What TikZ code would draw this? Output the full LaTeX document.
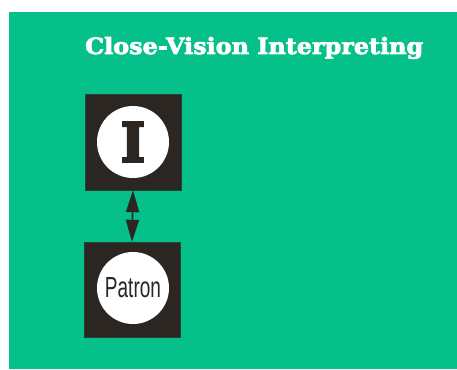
\documentclass[tikz,border=0pt]{standalone}
\usepackage{fontspec}
\setmainfont{Liberation Sans}
\newfontfamily\slabfont{DejaVu Serif}[FakeBold=3]
\newfontfamily\slabheavy{DejaVu Serif}[FakeBold=5]
\usetikzlibrary{arrows.meta}
\definecolor{bggreen}{HTML}{05C088}
\definecolor{boxdark}{HTML}{2B2622}
\tikzset{
  darkbox/.style={rectangle, fill=boxdark, draw=boxdark!80!bggreen, line width=0.4pt, minimum width=96pt, minimum height=96pt, inner sep=0pt},
  whitedisc/.style={circle, fill=white, draw=none, minimum size=72pt, inner sep=0pt},
  headtip/.tip={Triangle[length=22pt,width=13pt]},
  linkarrow/.style={boxdark, line width=1.6pt, headtip-headtip},
}
\begin{document}
\begin{tikzpicture}[x=1pt,y=-1pt]
\useasboundingbox (0,0) rectangle (457,369);
\fill[white] (0,0) rectangle (457,369);
\fill[bggreen] (9,12) rectangle (457,369);
\node[anchor=base west, inner sep=0pt, text=white] (title) at (85,54)
  {\resizebox{338pt}{17pt}{\slabfont\bfseries Close-Vision Interpreting}};
\node[darkbox] (boxI) at (133,142) {};
\node[darkbox, minimum height=95pt] (boxP) at (132,289.5) {};
\node[whitedisc] (discI) at (133,142) {\color{boxdark}\resizebox{24pt}{39pt}{\slabheavy\bfseries I}};
\node[whitedisc] (discP) at (133,288) {\color{boxdark}\resizebox{56pt}{20pt}{Patron}};
\draw[linkarrow] (boxI.south) -- (boxP.north);
\end{tikzpicture}
\end{document}
